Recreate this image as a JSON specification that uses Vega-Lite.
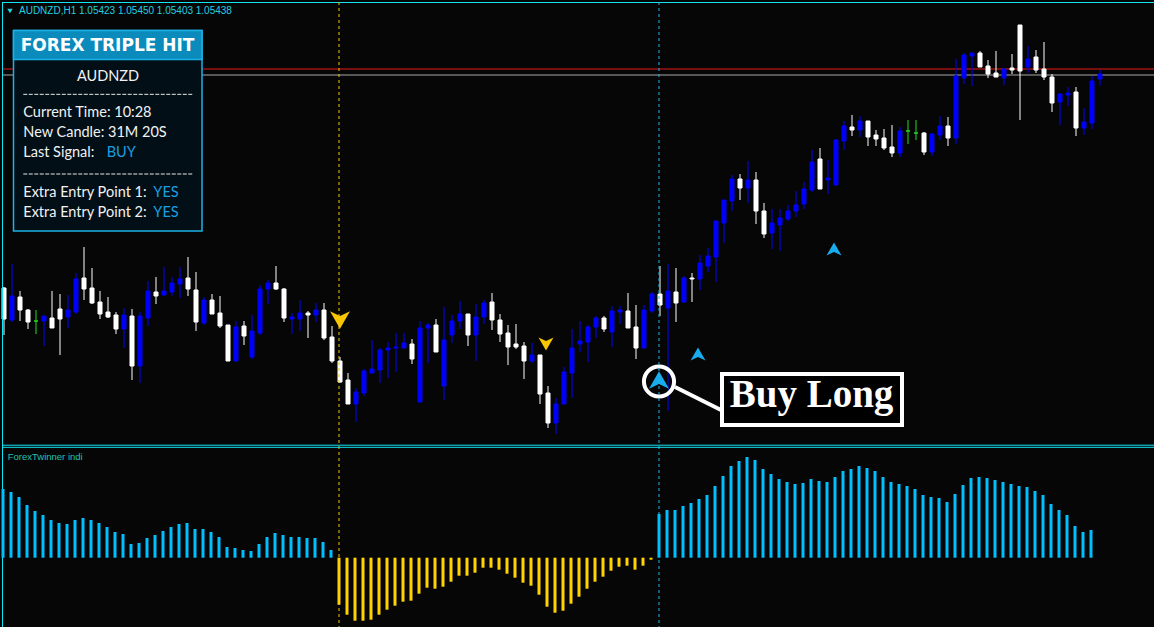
{
"$schema": "https://vega.github.io/schema/vega-lite/v6.json",
"background": "#060606",
"autosize": {"type": "none"},
"padding": {"left": 2, "top": 2, "right": 0, "bottom": 0},
"width": 1152,
"height": 625,
"config": {"view": {"stroke": null}, "axis": {"disable": true}, "legend": {"disable": true}, "scale": {"continuousPadding": 0}},
"datasets": {
"candles": [
{"i":0,"t":"dn","o":1.04796,"h":1.04799,"l":1.04655,"c":1.04703},
{"i":1,"t":"up","o":1.04700,"h":1.04868,"l":1.04694,"c":1.04772},
{"i":2,"t":"dn","o":1.04769,"h":1.04787,"l":1.04697,"c":1.04730},
{"i":3,"t":"dn","o":1.04730,"h":1.04733,"l":1.04673,"c":1.04694},
{"i":4,"t":"dj","o":1.04697,"h":1.04730,"l":1.04658,"c":1.04697},
{"i":5,"t":"up","o":1.04697,"h":1.04712,"l":1.04622,"c":1.04712},
{"i":6,"t":"dn","o":1.04706,"h":1.04787,"l":1.04676,"c":1.04676},
{"i":7,"t":"dn","o":1.04733,"h":1.04778,"l":1.04595,"c":1.04703},
{"i":8,"t":"up","o":1.04709,"h":1.04775,"l":1.04676,"c":1.04730},
{"i":9,"t":"up","o":1.04724,"h":1.04841,"l":1.04718,"c":1.04823},
{"i":10,"t":"dn","o":1.04826,"h":1.04919,"l":1.04760,"c":1.04793},
{"i":11,"t":"dn","o":1.04796,"h":1.04856,"l":1.04748,"c":1.04751},
{"i":12,"t":"dn","o":1.04754,"h":1.04787,"l":1.04703,"c":1.04718},
{"i":13,"t":"dn","o":1.04724,"h":1.04769,"l":1.04706,"c":1.04709},
{"i":14,"t":"dn","o":1.04715,"h":1.04724,"l":1.04658,"c":1.04673},
{"i":15,"t":"up","o":1.04673,"h":1.04736,"l":1.04616,"c":1.04715},
{"i":16,"t":"dn","o":1.04712,"h":1.04733,"l":1.04520,"c":1.04562},
{"i":17,"t":"up","o":1.04562,"h":1.04724,"l":1.04511,"c":1.04712},
{"i":18,"t":"up","o":1.04706,"h":1.04817,"l":1.04682,"c":1.04787},
{"i":19,"t":"dn","o":1.04784,"h":1.04829,"l":1.04748,"c":1.04772},
{"i":20,"t":"up","o":1.04775,"h":1.04859,"l":1.04775,"c":1.04787},
{"i":21,"t":"up","o":1.04784,"h":1.04829,"l":1.04772,"c":1.04811},
{"i":22,"t":"up","o":1.04808,"h":1.04859,"l":1.04766,"c":1.04823},
{"i":23,"t":"dn","o":1.04826,"h":1.04889,"l":1.04772,"c":1.04793},
{"i":24,"t":"dn","o":1.04790,"h":1.04844,"l":1.04667,"c":1.04694},
{"i":25,"t":"up","o":1.04691,"h":1.04769,"l":1.04685,"c":1.04760},
{"i":26,"t":"dn","o":1.04760,"h":1.04778,"l":1.04718,"c":1.04718},
{"i":27,"t":"dn","o":1.04721,"h":1.04772,"l":1.04676,"c":1.04682},
{"i":28,"t":"dn","o":1.04685,"h":1.04685,"l":1.04577,"c":1.04577},
{"i":29,"t":"up","o":1.04577,"h":1.04697,"l":1.04577,"c":1.04679},
{"i":30,"t":"dn","o":1.04682,"h":1.04697,"l":1.04625,"c":1.04652},
{"i":31,"t":"up","o":1.04589,"h":1.04715,"l":1.04583,"c":1.04667},
{"i":32,"t":"up","o":1.04661,"h":1.04805,"l":1.04655,"c":1.04793},
{"i":33,"t":"up","o":1.04793,"h":1.04820,"l":1.04748,"c":1.04811},
{"i":34,"t":"dn","o":1.04811,"h":1.04862,"l":1.04790,"c":1.04793},
{"i":35,"t":"dn","o":1.04793,"h":1.04796,"l":1.04694,"c":1.04706},
{"i":36,"t":"up","o":1.04703,"h":1.04721,"l":1.04658,"c":1.04709},
{"i":37,"t":"up","o":1.04703,"h":1.04760,"l":1.04667,"c":1.04721},
{"i":38,"t":"dn","o":1.04721,"h":1.04727,"l":1.04646,"c":1.04715},
{"i":39,"t":"up","o":1.04715,"h":1.04751,"l":1.04694,"c":1.04730},
{"i":40,"t":"dn","o":1.04730,"h":1.04751,"l":1.04640,"c":1.04646},
{"i":41,"t":"dn","o":1.04649,"h":1.04682,"l":1.04571,"c":1.04577},
{"i":42,"t":"dn","o":1.04577,"h":1.04589,"l":1.04511,"c":1.04514},
{"i":43,"t":"dn","o":1.04520,"h":1.04541,"l":1.04448,"c":1.04448},
{"i":44,"t":"up","o":1.04448,"h":1.04496,"l":1.04394,"c":1.04484},
{"i":45,"t":"up","o":1.04481,"h":1.04553,"l":1.04472,"c":1.04547},
{"i":46,"t":"up","o":1.04541,"h":1.04640,"l":1.04541,"c":1.04553},
{"i":47,"t":"up","o":1.04550,"h":1.04616,"l":1.04511,"c":1.04610},
{"i":48,"t":"up","o":1.04610,"h":1.04634,"l":1.04526,"c":1.04616},
{"i":49,"t":"up","o":1.04616,"h":1.04661,"l":1.04544,"c":1.04619},
{"i":50,"t":"up","o":1.04616,"h":1.04661,"l":1.04616,"c":1.04631},
{"i":51,"t":"dn","o":1.04628,"h":1.04643,"l":1.04568,"c":1.04583},
{"i":52,"t":"up","o":1.04454,"h":1.04697,"l":1.04454,"c":1.04676},
{"i":53,"t":"up","o":1.04676,"h":1.04691,"l":1.04571,"c":1.04685},
{"i":54,"t":"dn","o":1.04685,"h":1.04703,"l":1.04604,"c":1.04604},
{"i":55,"t":"up","o":1.04502,"h":1.04739,"l":1.04460,"c":1.04640},
{"i":56,"t":"up","o":1.04655,"h":1.04715,"l":1.04631,"c":1.04697},
{"i":57,"t":"up","o":1.04697,"h":1.04757,"l":1.04673,"c":1.04718},
{"i":58,"t":"dn","o":1.04718,"h":1.04718,"l":1.04622,"c":1.04655},
{"i":59,"t":"up","o":1.04655,"h":1.04748,"l":1.04577,"c":1.04709},
{"i":60,"t":"up","o":1.04709,"h":1.04760,"l":1.04688,"c":1.04751},
{"i":61,"t":"dn","o":1.04754,"h":1.04781,"l":1.04670,"c":1.04700},
{"i":62,"t":"dn","o":1.04700,"h":1.04718,"l":1.04634,"c":1.04658},
{"i":63,"t":"dn","o":1.04661,"h":1.04685,"l":1.04565,"c":1.04619},
{"i":64,"t":"dn","o":1.04628,"h":1.04688,"l":1.04613,"c":1.04619},
{"i":65,"t":"dn","o":1.04622,"h":1.04634,"l":1.04523,"c":1.04577},
{"i":66,"t":"up","o":1.04577,"h":1.04631,"l":1.04571,"c":1.04595},
{"i":67,"t":"dn","o":1.04595,"h":1.04595,"l":1.04448,"c":1.04478},
{"i":68,"t":"dn","o":1.04481,"h":1.04502,"l":1.04376,"c":1.04391},
{"i":69,"t":"up","o":1.04391,"h":1.04466,"l":1.04358,"c":1.04448},
{"i":70,"t":"up","o":1.04448,"h":1.04559,"l":1.04448,"c":1.04544},
{"i":71,"t":"up","o":1.04541,"h":1.04673,"l":1.04466,"c":1.04616},
{"i":72,"t":"up","o":1.04628,"h":1.04697,"l":1.04604,"c":1.04637},
{"i":73,"t":"up","o":1.04634,"h":1.04685,"l":1.04574,"c":1.04679},
{"i":74,"t":"up","o":1.04679,"h":1.04712,"l":1.04646,"c":1.04706},
{"i":75,"t":"dn","o":1.04706,"h":1.04712,"l":1.04664,"c":1.04673},
{"i":76,"t":"up","o":1.04664,"h":1.04742,"l":1.04619,"c":1.04727},
{"i":77,"t":"up","o":1.04724,"h":1.04742,"l":1.04688,"c":1.04730},
{"i":78,"t":"dn","o":1.04727,"h":1.04781,"l":1.04676,"c":1.04676},
{"i":79,"t":"dn","o":1.04679,"h":1.04745,"l":1.04583,"c":1.04616},
{"i":80,"t":"up","o":1.04616,"h":1.04745,"l":1.04616,"c":1.04730},
{"i":81,"t":"up","o":1.04727,"h":1.04784,"l":1.04721,"c":1.04778},
{"i":82,"t":"dn","o":1.04778,"h":1.04862,"l":1.04712,"c":1.04745},
{"i":83,"t":"up","o":1.04736,"h":1.04868,"l":1.04427,"c":1.04787},
{"i":84,"t":"dn","o":1.04784,"h":1.04856,"l":1.04694,"c":1.04751},
{"i":85,"t":"up","o":1.04754,"h":1.04832,"l":1.04751,"c":1.04826},
{"i":86,"t":"dn","o":1.04826,"h":1.04841,"l":1.04754,"c":1.04823},
{"i":87,"t":"up","o":1.04823,"h":1.04895,"l":1.04790,"c":1.04871},
{"i":88,"t":"up","o":1.04862,"h":1.04916,"l":1.04844,"c":1.04892},
{"i":89,"t":"up","o":1.04889,"h":1.04997,"l":1.04814,"c":1.04997},
{"i":90,"t":"up","o":1.04991,"h":1.05060,"l":1.04931,"c":1.05060},
{"i":91,"t":"up","o":1.05057,"h":1.05135,"l":1.05027,"c":1.05123},
{"i":92,"t":"dn","o":1.05123,"h":1.05138,"l":1.05060,"c":1.05096},
{"i":93,"t":"up","o":1.05096,"h":1.05177,"l":1.05051,"c":1.05120},
{"i":94,"t":"dn","o":1.05120,"h":1.05144,"l":1.04988,"c":1.05027},
{"i":95,"t":"dn","o":1.05027,"h":1.05051,"l":1.04946,"c":1.04958},
{"i":96,"t":"up","o":1.04961,"h":1.05033,"l":1.04913,"c":1.04991},
{"i":97,"t":"up","o":1.04985,"h":1.05033,"l":1.04907,"c":1.05006},
{"i":98,"t":"up","o":1.05003,"h":1.05045,"l":1.04997,"c":1.05027},
{"i":99,"t":"up","o":1.05027,"h":1.05087,"l":1.05009,"c":1.05045},
{"i":100,"t":"up","o":1.05048,"h":1.05114,"l":1.05033,"c":1.05093},
{"i":101,"t":"up","o":1.05090,"h":1.05210,"l":1.05084,"c":1.05174},
{"i":102,"t":"dn","o":1.05183,"h":1.05216,"l":1.05093,"c":1.05093},
{"i":103,"t":"up","o":1.05120,"h":1.05180,"l":1.05078,"c":1.05126},
{"i":104,"t":"up","o":1.05105,"h":1.05243,"l":1.05105,"c":1.05240},
{"i":105,"t":"up","o":1.05237,"h":1.05297,"l":1.05210,"c":1.05282},
{"i":106,"t":"dn","o":1.05279,"h":1.05315,"l":1.05252,"c":1.05270},
{"i":107,"t":"up","o":1.05270,"h":1.05312,"l":1.05249,"c":1.05297},
{"i":108,"t":"dn","o":1.05297,"h":1.05297,"l":1.05222,"c":1.05249},
{"i":109,"t":"dn","o":1.05255,"h":1.05270,"l":1.05222,"c":1.05243},
{"i":110,"t":"dn","o":1.05246,"h":1.05273,"l":1.05210,"c":1.05216},
{"i":111,"t":"dn","o":1.05219,"h":1.05285,"l":1.05189,"c":1.05201},
{"i":112,"t":"up","o":1.05201,"h":1.05279,"l":1.05189,"c":1.05267},
{"i":113,"t":"dj","o":1.05267,"h":1.05300,"l":1.05228,"c":1.05267},
{"i":114,"t":"dj","o":1.05261,"h":1.05300,"l":1.05240,"c":1.05261},
{"i":115,"t":"dn","o":1.05261,"h":1.05264,"l":1.05195,"c":1.05204},
{"i":116,"t":"up","o":1.05204,"h":1.05261,"l":1.05192,"c":1.05258},
{"i":117,"t":"up","o":1.05255,"h":1.05312,"l":1.05240,"c":1.05282},
{"i":118,"t":"dn","o":1.05282,"h":1.05309,"l":1.05222,"c":1.05246},
{"i":119,"t":"up","o":1.05246,"h":1.05483,"l":1.05228,"c":1.05432},
{"i":120,"t":"up","o":1.05426,"h":1.05501,"l":1.05408,"c":1.05495},
{"i":121,"t":"up","o":1.05492,"h":1.05501,"l":1.05402,"c":1.05501},
{"i":122,"t":"dn","o":1.05501,"h":1.05507,"l":1.05459,"c":1.05459},
{"i":123,"t":"dn","o":1.05462,"h":1.05480,"l":1.05426,"c":1.05438},
{"i":124,"t":"dn","o":1.05441,"h":1.05507,"l":1.05429,"c":1.05429},
{"i":125,"t":"up","o":1.05426,"h":1.05456,"l":1.05405,"c":1.05453},
{"i":126,"t":"dn","o":1.05456,"h":1.05498,"l":1.05438,"c":1.05450},
{"i":127,"t":"dn","o":1.05585,"h":1.05585,"l":1.05300,"c":1.05447},
{"i":128,"t":"up","o":1.05459,"h":1.05522,"l":1.05441,"c":1.05483},
{"i":129,"t":"dn","o":1.05489,"h":1.05510,"l":1.05441,"c":1.05450},
{"i":130,"t":"dn","o":1.05453,"h":1.05534,"l":1.05420,"c":1.05429},
{"i":131,"t":"dn","o":1.05429,"h":1.05438,"l":1.05324,"c":1.05351},
{"i":132,"t":"up","o":1.05354,"h":1.05381,"l":1.05285,"c":1.05378},
{"i":133,"t":"up","o":1.05375,"h":1.05399,"l":1.05342,"c":1.05381},
{"i":134,"t":"dn","o":1.05384,"h":1.05399,"l":1.05252,"c":1.05276},
{"i":135,"t":"up","o":1.05276,"h":1.05336,"l":1.05255,"c":1.05294},
{"i":136,"t":"up","o":1.05291,"h":1.05432,"l":1.05273,"c":1.05417},
{"i":137,"t":"up","o":1.05423,"h":1.05450,"l":1.05403,"c":1.05438}
],
"ind": [
{"i":0,"v":68.7},{"i":1,"v":65.7},{"i":2,"v":60.7},{"i":3,"v":52.7},{"i":4,"v":46.7},{"i":5,"v":42.7},{"i":6,"v":37.7},{"i":7,"v":34.7},{"i":8,"v":33.7},{"i":9,"v":37.7},
{"i":10,"v":39.7},{"i":11,"v":37.7},{"i":12,"v":34.7},{"i":13,"v":30.7},{"i":14,"v":25.7},{"i":15,"v":23.7},{"i":16,"v":13.7},{"i":17,"v":14.7},{"i":18,"v":19.7},{"i":19,"v":22.7},
{"i":20,"v":26.7},{"i":21,"v":30.7},{"i":22,"v":33.7},{"i":23,"v":34.7},{"i":24,"v":28.7},{"i":25,"v":28.7},{"i":26,"v":25.7},{"i":27,"v":20.7},{"i":28,"v":10.7},{"i":29,"v":9.7},
{"i":30,"v":7.7},{"i":31,"v":6.7},{"i":32,"v":13.7},{"i":33,"v":20.7},{"i":34,"v":24.7},{"i":35,"v":22.7},{"i":36,"v":20.7},{"i":37,"v":20.7},{"i":38,"v":19.7},{"i":39,"v":19.7},
{"i":40,"v":15.7},{"i":41,"v":7.7},{"i":42,"v":-47},{"i":43,"v":-57},{"i":44,"v":-63},{"i":45,"v":-63},{"i":46,"v":-62},{"i":47,"v":-57},{"i":48,"v":-52},{"i":49,"v":-48},
{"i":50,"v":-44},{"i":51,"v":-43},{"i":52,"v":-36},{"i":53,"v":-30},{"i":54,"v":-31},{"i":55,"v":-29},{"i":56,"v":-24},{"i":57,"v":-18},{"i":58,"v":-18},{"i":59,"v":-15},
{"i":60,"v":-10},{"i":61,"v":-10},{"i":62,"v":-12},{"i":63,"v":-16},{"i":64,"v":-20},{"i":65,"v":-25},{"i":66,"v":-28},{"i":67,"v":-37},{"i":68,"v":-49},{"i":69,"v":-55},
{"i":70,"v":-53},{"i":71,"v":-46},{"i":72,"v":-39},{"i":73,"v":-31},{"i":74,"v":-24},{"i":75,"v":-19},{"i":76,"v":-13},{"i":77,"v":-9},{"i":78,"v":-8},{"i":79,"v":-12},
{"i":80,"v":-8},{"i":81,"v":-2},{"i":82,"v":43.7},{"i":83,"v":47.7},{"i":84,"v":47.7},{"i":85,"v":51.7},{"i":86,"v":54.7},{"i":87,"v":58.7},{"i":88,"v":62.7},{"i":89,"v":71.7},
{"i":90,"v":81.7},{"i":91,"v":91.7},{"i":92,"v":96.7},{"i":93,"v":100.7},{"i":94,"v":97.7},{"i":95,"v":88.7},{"i":96,"v":83.7},{"i":97,"v":78.7},{"i":98,"v":75.7},{"i":99,"v":73.7},
{"i":100,"v":74.7},{"i":101,"v":78.7},{"i":102,"v":76.7},{"i":103,"v":75.7},{"i":104,"v":80.7},{"i":105,"v":86.7},{"i":106,"v":88.7},{"i":107,"v":91.7},{"i":108,"v":89.7},{"i":109,"v":86.7},
{"i":110,"v":80.7},{"i":111,"v":75.7},{"i":112,"v":73.7},{"i":113,"v":71.7},{"i":114,"v":68.7},{"i":115,"v":62.7},{"i":116,"v":60.7},{"i":117,"v":59.7},{"i":118,"v":55.7},{"i":119,"v":63.7},
{"i":120,"v":72.7},{"i":121,"v":79.7},{"i":122,"v":80.7},{"i":123,"v":79.7},{"i":124,"v":77.7},{"i":125,"v":75.7},{"i":126,"v":73.7},{"i":127,"v":71.7},{"i":128,"v":70.7},{"i":129,"v":66.7},
{"i":130,"v":62.7},{"i":131,"v":53.7},{"i":132,"v":47.7},{"i":133,"v":42.7},{"i":134,"v":31.7},{"i":135,"v":25.7},{"i":136,"v":27.7}
],
"signals": [{"i":42,"sig":"sell"},{"i":82,"sig":"buy"}],
"levels": [{"name":"ask","p":1.05453},{"name":"bid","p":1.05435}],
"arrows": [
{"i":42,"p":1.04700,"dir":"dn","kind":"main"},
{"i":67.75,"p":1.04628,"dir":"dn","kind":"extra"},
{"i":81.875,"p":1.04520,"dir":"up","kind":"main"},
{"i":86.75,"p":1.04598,"dir":"up","kind":"extra"},
{"i":103.75,"p":1.04913,"dir":"up","kind":"extra"}
],
"panel": [
{"part":"body","x1":1.1875,"x2":24.75,"y1":1.055685,"y2":1.04967},
{"part":"head","x1":1.1875,"x2":24.75,"y1":1.055685,"y2":1.054815}
],
"panelLines": [
{"i":2.41,"p":1.05320,"txt":"Current Time: 10:28"},
{"i":2.41,"p":1.05260,"txt":"New Candle: 31M 20S"},
{"i":2.41,"p":1.05200,"txt":"Last Signal:"},
{"i":2.41,"p":1.05080,"txt":"Extra Entry Point 1:"},
{"i":2.41,"p":1.05020,"txt":"Extra Entry Point 2:"}
],
"panelValues": [
{"i":12.84,"p":1.05200,"txt":"BUY"},
{"i":18.67,"p":1.05080,"txt":"YES"},
{"i":18.67,"p":1.05020,"txt":"YES"}
],
"panelSeps": [{"x1":2.41,"x2":23.59,"p":1.05377},{"x1":2.41,"x2":23.59,"p":1.05138}]
},
"layer": [
{
"layer": [
{"data": {"name": "levels"}, "mark": {"type": "rule", "strokeWidth": 1},
 "encoding": {"y": {"field": "p", "type": "quantitative", "scale": {"domain": [1.03779, 1.05654], "nice": false, "zero": false}, "axis": null},
  "color": {"field": "name", "type": "nominal", "scale": {"domain": ["ask", "bid"], "range": ["#e81818", "#a8a8a8"]}, "legend": null}}},
{"data": {"name": "candles"}, "mark": {"type": "rule", "strokeWidth": 1},
 "encoding": {"x": {"field": "i", "type": "quantitative", "scale": {"domain": [-0.25, 143.75], "nice": false, "zero": false, "padding": 0}, "axis": null},
  "y": {"field": "l", "type": "quantitative", "scale": {"domain": [1.03779, 1.05654], "nice": false, "zero": false}, "axis": null},
  "y2": {"field": "h"},
  "color": {"field": "t", "type": "nominal", "scale": {"domain": ["up", "dn", "dj"], "range": ["#0000ff", "#ffffff", "#22dd22"]}, "legend": null}}},
{"data": {"name": "candles"}, "mark": {"type": "bar", "size": 4, "strokeWidth": 1},
 "encoding": {"x": {"field": "i", "type": "quantitative", "scale": {"domain": [-0.25, 143.75], "nice": false, "zero": false, "padding": 0}, "axis": null},
  "y": {"field": "o", "type": "quantitative", "scale": {"domain": [1.03779, 1.05654], "nice": false, "zero": false}, "axis": null},
  "y2": {"field": "c"},
  "fill": {"field": "t", "type": "nominal", "scale": {"domain": ["up", "dn", "dj"], "range": ["#0000ff", "#ffffff", "#22dd22"]}, "legend": null},
  "stroke": {"field": "t", "type": "nominal", "scale": {"domain": ["up", "dn", "dj"], "range": ["#0000ff", "#ffffff", "#22dd22"]}, "legend": null}}},
{"data": {"values": [{"i": 81.875, "p": 1.045155}]}, "mark": {"type": "point", "shape": "circle", "filled": false, "stroke": "#ffffff", "strokeWidth": 4, "size": 908, "opacity": 1},
 "encoding": {"x": {"field": "i", "type": "quantitative", "scale": {"domain": [-0.25, 143.75], "nice": false, "zero": false, "padding": 0}, "axis": null},
  "y": {"field": "p", "type": "quantitative", "scale": {"domain": [1.03779, 1.05654], "nice": false, "zero": false}, "axis": null}}},
{"data": {"values": [{"x1": 83.875, "y1": 1.04499, "x2": 89.625, "y2": 1.04430}]}, "mark": {"type": "rule", "stroke": "#ffffff", "strokeWidth": 4},
 "encoding": {"x": {"field": "x1", "type": "quantitative", "scale": {"domain": [-0.25, 143.75], "nice": false, "zero": false, "padding": 0}, "axis": null},
  "x2": {"field": "x2"},
  "y": {"field": "y1", "type": "quantitative", "scale": {"domain": [1.03779, 1.05654], "nice": false, "zero": false}, "axis": null},
  "y2": {"field": "y2"}}},
{"data": {"name": "arrows"}, "mark": {"type": "point", "filled": true, "opacity": 1, "strokeWidth": 0},
 "encoding": {"x": {"field": "i", "type": "quantitative", "scale": {"domain": [-0.25, 143.75], "nice": false, "zero": false, "padding": 0}, "axis": null},
  "y": {"field": "p", "type": "quantitative", "scale": {"domain": [1.03779, 1.05654], "nice": false, "zero": false}, "axis": null},
  "shape": {"field": "dir", "type": "nominal", "scale": {"domain": ["up", "dn"], "range": ["M0,-0.65 L0.75,0.65 L0,0.3 L-0.75,0.65 Z", "M0,0.65 L0.75,-0.65 L0,-0.3 L-0.75,-0.65 Z"]}, "legend": null},
  "fill": {"field": "dir", "type": "nominal", "scale": {"domain": ["up", "dn"], "range": ["#19acec", "#f7c600"]}, "legend": null},
  "size": {"field": "kind", "type": "ordinal", "scale": {"domain": ["main", "extra"], "range": [711, 400]}, "legend": null}}},
{"data": {"values": [{"x1": 89.75, "x2": 112.25, "y1": 1.04538, "y2": 1.04385}]}, "mark": {"type": "rect", "fill": "#000000", "stroke": "#ffffff", "strokeWidth": 4},
 "encoding": {"x": {"field": "x1", "type": "quantitative", "scale": {"domain": [-0.25, 143.75], "nice": false, "zero": false, "padding": 0}, "axis": null},
  "x2": {"field": "x2"},
  "y": {"field": "y1", "type": "quantitative", "scale": {"domain": [1.03779, 1.05654], "nice": false, "zero": false}, "axis": null},
  "y2": {"field": "y2"}}},
{"data": {"values": [{"i": 100.94, "p": 1.04439, "txt": "Buy Long"}]}, "mark": {"type": "text", "font": "Liberation Serif", "fontWeight": "bold", "fontSize": 39, "fill": "#ffffff", "align": "center", "baseline": "alphabetic"},
 "encoding": {"x": {"field": "i", "type": "quantitative", "scale": {"domain": [-0.25, 143.75], "nice": false, "zero": false, "padding": 0}, "axis": null},
  "y": {"field": "p", "type": "quantitative", "scale": {"domain": [1.03779, 1.05654], "nice": false, "zero": false}, "axis": null},
  "text": {"field": "txt"}}},
{"data": {"name": "panel"}, "mark": {"type": "rect", "stroke": "#1cb2e6", "strokeWidth": 1.5},
 "encoding": {"x": {"field": "x1", "type": "quantitative", "scale": {"domain": [-0.25, 143.75], "nice": false, "zero": false, "padding": 0}, "axis": null},
  "x2": {"field": "x2"},
  "y": {"field": "y1", "type": "quantitative", "scale": {"domain": [1.03779, 1.05654], "nice": false, "zero": false}, "axis": null},
  "y2": {"field": "y2"},
  "color": {"field": "part", "type": "nominal", "scale": {"domain": ["body", "head"], "range": ["#020f17", "#0a8bbb"]}, "legend": null}}},
{"data": {"values": [{"i": 12.94, "p": 1.055235, "txt": "FOREX TRIPLE HIT"}]}, "mark": {"type": "text", "font": "DejaVu Sans", "fontWeight": "bold", "fontSize": 17, "fill": "#ffffff", "align": "center", "baseline": "middle"},
 "encoding": {"x": {"field": "i", "type": "quantitative", "scale": {"domain": [-0.25, 143.75], "nice": false, "zero": false, "padding": 0}, "axis": null},
  "y": {"field": "p", "type": "quantitative", "scale": {"domain": [1.03779, 1.05654], "nice": false, "zero": false}, "axis": null},
  "text": {"field": "txt"}}},
{"data": {"values": [{"i": 13.0, "p": 1.05428, "txt": "AUDNZD"}]}, "mark": {"type": "text", "font": "Lato", "fontSize": 14.5, "fill": "#f2f2f2", "align": "center", "baseline": "middle"},
 "encoding": {"x": {"field": "i", "type": "quantitative", "scale": {"domain": [-0.25, 143.75], "nice": false, "zero": false, "padding": 0}, "axis": null},
  "y": {"field": "p", "type": "quantitative", "scale": {"domain": [1.03779, 1.05654], "nice": false, "zero": false}, "axis": null},
  "text": {"field": "txt"}}},
{"data": {"name": "panelLines"}, "mark": {"type": "text", "font": "Lato", "fontSize": 14.5, "fill": "#f2f2f2", "align": "left", "baseline": "middle"},
 "encoding": {"x": {"field": "i", "type": "quantitative", "scale": {"domain": [-0.25, 143.75], "nice": false, "zero": false, "padding": 0}, "axis": null},
  "y": {"field": "p", "type": "quantitative", "scale": {"domain": [1.03779, 1.05654], "nice": false, "zero": false}, "axis": null},
  "text": {"field": "txt"}}},
{"data": {"name": "panelValues"}, "mark": {"type": "text", "font": "Lato", "fontSize": 14.5, "fill": "#1a9fe2", "align": "left", "baseline": "middle"},
 "encoding": {"x": {"field": "i", "type": "quantitative", "scale": {"domain": [-0.25, 143.75], "nice": false, "zero": false, "padding": 0}, "axis": null},
  "y": {"field": "p", "type": "quantitative", "scale": {"domain": [1.03779, 1.05654], "nice": false, "zero": false}, "axis": null},
  "text": {"field": "txt"}}},
{"data": {"name": "panelSeps"}, "mark": {"type": "rule", "stroke": "#e8e8e8", "strokeWidth": 1, "strokeDash": [4, 1.5]},
 "encoding": {"x": {"field": "x1", "type": "quantitative", "scale": {"domain": [-0.25, 143.75], "nice": false, "zero": false, "padding": 0}, "axis": null},
  "x2": {"field": "x2"},
  "y": {"field": "p", "type": "quantitative", "scale": {"domain": [1.03779, 1.05654], "nice": false, "zero": false}, "axis": null}}},
{"data": {"values": [{"i": 1.875, "p": 1.05628, "txt": "AUDNZD,H1  1.05423 1.05450 1.05403 1.05438"}]}, "mark": {"type": "text", "font": "Liberation Sans", "fontSize": 10, "fill": "#22d0e2", "align": "left", "baseline": "middle"},
 "encoding": {"x": {"field": "i", "type": "quantitative", "scale": {"domain": [-0.25, 143.75], "nice": false, "zero": false, "padding": 0}, "axis": null},
  "y": {"field": "p", "type": "quantitative", "scale": {"domain": [1.03779, 1.05654], "nice": false, "zero": false}, "axis": null},
  "text": {"field": "txt"}}},
{"data": {"values": [{"i": 0.75, "p": 1.05627}]}, "mark": {"type": "point", "shape": "triangle-down", "filled": true, "fill": "#22d0e2", "opacity": 1, "size": 30, "strokeWidth": 0},
 "encoding": {"x": {"field": "i", "type": "quantitative", "scale": {"domain": [-0.25, 143.75], "nice": false, "zero": false, "padding": 0}, "axis": null},
  "y": {"field": "p", "type": "quantitative", "scale": {"domain": [1.03779, 1.05654], "nice": false, "zero": false}, "axis": null}}},
{"data": {"values": [{"edge": "top", "p": 1.056525}, {"edge": "bottom", "p": 1.043244}]}, "mark": {"type": "rule", "stroke": "#12e4f4", "strokeWidth": 1},
 "encoding": {"y": {"field": "p", "type": "quantitative", "scale": {"domain": [1.03779, 1.05654], "nice": false, "zero": false}, "axis": null}}},
{"data": {"values": [{"edge": "left", "i": -0.1875}]}, "mark": {"type": "rule", "stroke": "#12e4f4", "strokeWidth": 1},
 "encoding": {"x": {"field": "i", "type": "quantitative", "scale": {"domain": [-0.25, 143.75], "nice": false, "zero": false, "padding": 0}, "axis": null}}}
],
"resolve": {"scale": {"color": "independent", "fill": "independent", "stroke": "independent"}}
},
{
"layer": [
{"data": {"name": "signals"}, "mark": {"type": "rule", "strokeWidth": 1, "strokeDash": [3, 3]},
 "encoding": {"x": {"field": "i", "type": "quantitative", "scale": {"domain": [-0.125, 143.875], "nice": false, "zero": false, "padding": 0}, "axis": null},
  "color": {"field": "sig", "type": "nominal", "scale": {"domain": ["sell", "buy"], "range": ["#f5c400", "#22b4ec"]}, "legend": null}}},
{"data": {"name": "ind"}, "mark": {"type": "bar", "size": 3},
 "encoding": {"x": {"field": "i", "type": "quantitative", "scale": {"domain": [-0.125, 143.875], "nice": false, "zero": false, "padding": 0}, "axis": null},
  "y": {"field": "v", "type": "quantitative", "scale": {"domain": [-69.3, 555.7], "nice": false, "zero": false}, "axis": null},
  "y2": {"datum": 0},
  "color": {"condition": {"test": "datum.v < 0", "value": "#ffd200"}, "value": "#00bfff"}}},
{"data": {"values": [{"i": 0.59, "v": 101, "txt": "ForexTwinner indi"}]}, "mark": {"type": "text", "font": "Liberation Sans", "fontSize": 9.5, "fill": "#20c2b0", "align": "left", "baseline": "middle"},
 "encoding": {"x": {"field": "i", "type": "quantitative", "scale": {"domain": [-0.125, 143.875], "nice": false, "zero": false, "padding": 0}, "axis": null},
  "y": {"field": "v", "type": "quantitative", "scale": {"domain": [-69.3, 555.7], "nice": false, "zero": false}, "axis": null},
  "text": {"field": "txt"}}},
{"data": {"values": [{"edge": "top", "v": 110.4}]}, "mark": {"type": "rule", "stroke": "#12e4f4", "strokeWidth": 1},
 "encoding": {"y": {"field": "v", "type": "quantitative", "scale": {"domain": [-69.3, 555.7], "nice": false, "zero": false}, "axis": null}}}
],
"resolve": {"scale": {"color": "independent"}}
}
],
"resolve": {"scale": {"x": "independent", "y": "independent", "color": "independent", "fill": "independent", "stroke": "independent"}}
}
